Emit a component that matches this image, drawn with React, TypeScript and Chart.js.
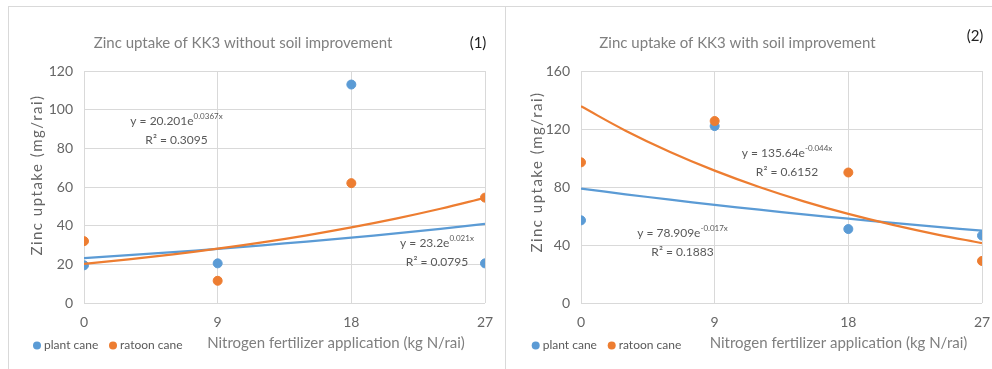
import React, { useEffect, useRef } from "react";
import { Chart, registerables } from "chart.js";

Chart.register(...registerables);

// ---------- data ----------
const nitrogenRates = [0, 9, 18, 27];
const trendRates = [0, 3, 6, 9, 12, 15, 18, 21, 24, 27];

// Panel (1): without soil improvement
const plantCane1 = [19.5, 20.5, 113, 20.5];
const ratoonCane1 = [32, 11.5, 62, 54.5];
const plantTrend1 = [23.2, 24.7, 26.3, 28.0, 29.8, 31.8, 33.8, 36.0, 38.4, 40.9];
const ratoonTrend1 = [20.2, 22.55, 25.18, 28.11, 31.38, 35.03, 39.11, 43.66, 48.74, 54.41];

// Panel (2): with soil improvement
const plantCane2 = [57, 122, 51, 46.5];
const ratoonCane2 = [97, 125.5, 90, 29];
const plantTrend2 = [78.9, 74.99, 71.26, 67.71, 64.35, 61.15, 58.11, 55.22, 52.47, 49.86];
const ratoonTrend2 = [135.64, 118.86, 104.17, 91.29, 80.0, 70.11, 61.43, 53.84, 47.18, 41.35];

const seriesNames = ["plant cane", "ratoon cane"];
const yAxisTitle = "Zinc uptake (mg/rai)";
const xAxisTitle = "Nitrogen fertilizer application (kg N/rai)";

// ---------- styles ----------
const FONT = "Lato, 'Liberation Sans', sans-serif";
const BLUE = "#5B9BD5";
const ORANGE = "#ED7D31";
const GRID = "#D9D9D9";
const TICK_COLOR = "#666666";
const TITLE_COLOR = "#7F7F7F";
const EQ_COLOR = "#595959";

type Eq = { main: string; sup: string; r2: string; cx: number; cy: number };
type PanelCfg = {
  title: string;
  tag: string;
  yMax: number;
  yStep: number;
  plant: number[];
  ratoon: number[];
  plantTrend: number[];
  ratoonTrend: number[];
  titleX: number;
  tagX: number;
  tagY: number;
  yTitleX: number;
  yTitleY: number;
  xTitleX: number;
  legendX: [number, number];
  eqs: Eq[];
};

const panel1: PanelCfg = {
  title: "Zinc uptake of KK3 without soil improvement",
  tag: "(1)",
  yMax: 120,
  yStep: 20,
  plant: plantCane1,
  ratoon: ratoonCane1,
  plantTrend: plantTrend1,
  ratoonTrend: ratoonTrend1,
  titleX: 234,
  tagX: 469,
  tagY: 36,
  yTitleX: 28,
  yTitleY: 168,
  xTitleX: 327,
  legendX: [28, 104],
  eqs: [
    { main: "y = 20.201e", sup: "0.0367x", r2: "R² = 0.3095", cx: 167.5, cy: 114 },
    { main: "y = 23.2e", sup: "0.021x", r2: "R² = 0.0795", cx: 428, cy: 236 },
  ],
};

const panel2: PanelCfg = {
  title: "Zinc uptake of KK3 with soil improvement",
  tag: "(2)",
  yMax: 160,
  yStep: 40,
  plant: plantCane2,
  ratoon: ratoonCane2,
  plantTrend: plantTrend2,
  ratoonTrend: ratoonTrend2,
  titleX: 231.5,
  tagX: 469,
  tagY: 29,
  yTitleX: 31,
  yTitleY: 165,
  xTitleX: 332.5,
  legendX: [29.7, 105.7],
  eqs: [
    { main: "y = 135.64e", sup: "-0.044x", r2: "R² = 0.6152", cx: 281, cy: 146 },
    { main: "y = 78.909e", sup: "-0.017x", r2: "R² = 0.1883", cx: 176.5, cy: 226 },
  ],
};

const toPoints = (xs: number[], ys: number[]) => xs.map((x, i) => ({ x, y: ys[i] }));

function overlayPlugin(cfg: PanelCfg) {
  return {
    id: "overlay",
    afterDraw(chart: any) {
      const ctx: CanvasRenderingContext2D = chart.ctx;
      ctx.save();
      ctx.textBaseline = "middle";

      // title
      ctx.textAlign = "center";
      ctx.font = `15px ${FONT}`;
      ctx.fillStyle = TITLE_COLOR;
      ctx.fillText(cfg.title, cfg.titleX, 36);

      // tag
      ctx.font = `15px ${FONT}`;
      ctx.fillStyle = "#222222";
      ctx.fillText(cfg.tag, cfg.tagX, cfg.tagY);

      // y title
      ctx.save();
      ctx.translate(cfg.yTitleX, cfg.yTitleY);
      ctx.rotate(-Math.PI / 2);
      ctx.font = `15px ${FONT}`;
      ctx.fillStyle = "#666666";
      (ctx as any).letterSpacing = "1.5px";
      ctx.fillText(yAxisTitle, 0, 0);
      ctx.restore();

      // x title
      ctx.font = `15px ${FONT}`;
      ctx.fillStyle = TITLE_COLOR;
      ctx.textAlign = "center";
      ctx.fillText(xAxisTitle, cfg.xTitleX, 336);

      // legend
      const colors = [BLUE, ORANGE];
      ctx.font = `12px ${FONT}`;
      ctx.textAlign = "left";
      seriesNames.forEach((name, i) => {
        const lx = cfg.legendX[i];
        ctx.beginPath();
        ctx.arc(lx, 338.5, 4, 0, Math.PI * 2);
        ctx.fillStyle = colors[i];
        ctx.fill();
        ctx.fillStyle = "#595959";
        ctx.fillText(name, lx + 7, 338.5);
      });

      // trendline equations
      cfg.eqs.forEach((eq) => {
        ctx.font = `12px ${FONT}`;
        const w1 = ctx.measureText(eq.main).width;
        ctx.font = `8px ${FONT}`;
        const w2 = ctx.measureText(eq.sup).width;
        const start = eq.cx - (w1 + w2) / 2;
        ctx.textAlign = "left";
        ctx.fillStyle = EQ_COLOR;
        ctx.font = `12px ${FONT}`;
        ctx.fillText(eq.main, start, eq.cy);
        ctx.font = `8px ${FONT}`;
        ctx.fillText(eq.sup, start + w1, eq.cy - 5);
        ctx.font = `12px ${FONT}`;
        ctx.textAlign = "center";
        ctx.fillText(eq.r2, eq.cx, eq.cy + 19);
      });

      ctx.restore();
    },
  };
}

function ZincPanel({ cfg, left }: { cfg: PanelCfg; left: number }) {
  const ref = useRef<HTMLCanvasElement>(null);
  useEffect(() => {
    const chart = new Chart(ref.current as HTMLCanvasElement, {
      type: "scatter",
      data: {
        datasets: [
          {
            type: "line",
            label: "ratoon cane trend",
            data: toPoints(trendRates, cfg.ratoonTrend),
            borderColor: ORANGE,
            borderWidth: 2.25,
            pointRadius: 0,
            tension: 0.4,
            fill: false,
          },
          {
            type: "line",
            label: "plant cane trend",
            data: toPoints(trendRates, cfg.plantTrend),
            borderColor: BLUE,
            borderWidth: 2.25,
            pointRadius: 0,
            tension: 0.4,
            fill: false,
          },
          {
            label: seriesNames[1],
            data: toPoints(nitrogenRates, cfg.ratoon),
            backgroundColor: ORANGE,
            borderColor: ORANGE,
            pointRadius: 4.5,
          },
          {
            label: seriesNames[0],
            data: toPoints(nitrogenRates, cfg.plant),
            backgroundColor: BLUE,
            borderColor: BLUE,
            pointRadius: 4.5,
          },
        ] as any,
      },
      options: {
        responsive: false,
        animation: false,
        layout: { padding: { left: 0, right: 20, top: 64, bottom: 0 } },
        plugins: {
          legend: { display: false },
          title: { display: false },
          tooltip: { enabled: false },
        },
        scales: {
          x: {
            type: "linear",
            min: 0,
            max: 27,
            ticks: { stepSize: 9, color: TICK_COLOR, font: { family: FONT, size: 14 }, padding: 11 },
            grid: { color: GRID, drawTicks: false },
            border: { display: false },
            afterFit: (s: any) => {
              s.height = 66;
            },
          },
          y: {
            type: "linear",
            min: 0,
            max: cfg.yMax,
            ticks: { stepSize: cfg.yStep, color: TICK_COLOR, font: { family: FONT, size: 14 }, padding: 11 },
            grid: { color: GRID, drawTicks: false },
            border: { display: false },
            afterFit: (s: any) => {
              s.width = 75;
            },
          },
        },
      } as any,
      plugins: [overlayPlugin(cfg)],
    });
    return () => chart.destroy();
  }, [cfg]);
  return (
    <canvas
      ref={ref}
      width={496}
      height={362}
      style={{ position: "absolute", left, top: 7, width: 496, height: 362 }}
    />
  );
}

export default function App() {
  return (
    <div
      style={{
        position: "absolute",
        left: 0,
        top: 0,
        width: 992,
        height: 369,
        background: "#ffffff",
        overflow: "hidden",
      }}
    >
      <ZincPanel cfg={panel1} left={9} />
      <ZincPanel cfg={panel2} left={506} />
      <div style={{ position: "absolute", left: 8, top: 6, width: 984, height: 1, background: "#D9D9D9" }} />
      <div style={{ position: "absolute", left: 8, top: 6, width: 1, height: 363, background: "#D9D9D9" }} />
      <div style={{ position: "absolute", left: 505, top: 6, width: 1, height: 363, background: "#D9D9D9" }} />
    </div>
  );
}
